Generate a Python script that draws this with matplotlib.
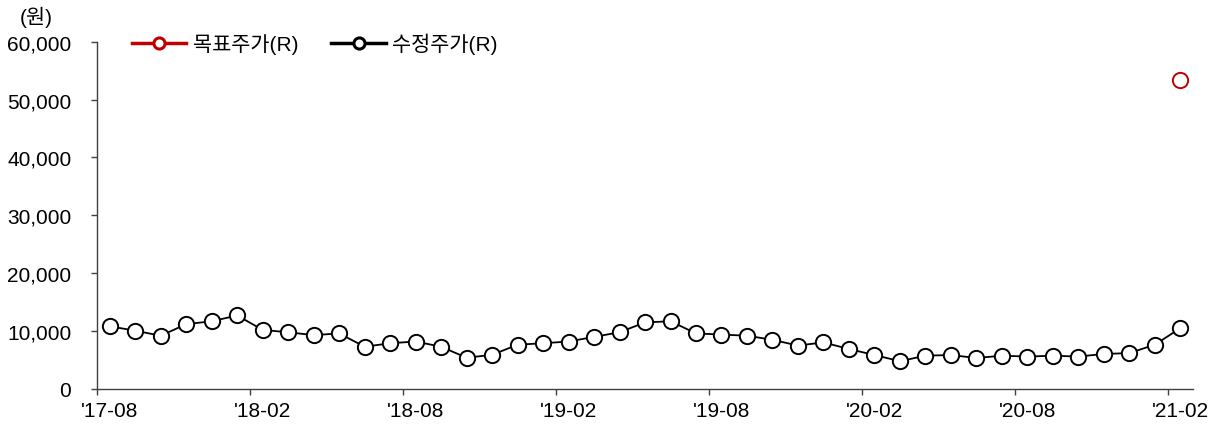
import numpy as np
import matplotlib
matplotlib.use("Agg")
import matplotlib.pyplot as plt
from matplotlib.ticker import FuncFormatter

plt.rcParams['font.family'] = ['Liberation Sans', 'Noto Sans CJK KR', 'DejaVu Sans']

# ── data ─────────────────────────────────────────────────────────────────────
months = [f"{y % 100:02d}-{m:02d}" for y in range(2017, 2022) for m in range(1, 13)]
months = months[months.index("17-08"):months.index("21-02") + 1]

adj_price = [10830, 10070, 9200, 11200, 11700, 12700, 10200, 9800, 9300, 9600,
             7300, 7900, 8200, 7300, 5400, 5900, 7650, 7900, 8200, 9000,
             9800, 11500, 11700, 9600, 9400, 9200, 8500, 7500, 8050, 6900,
             5870, 4800, 5750, 5870, 5350, 5750, 5600, 5750, 5600, 6050,
             6200, 7650, 10500]
target_price = [np.nan] * (len(months) - 1) + [53400]

tick_labels = ["'" + m for m in months[::6]]

# ── plot ─────────────────────────────────────────────────────────────────────
fig = plt.figure(figsize=(12.19, 4.27), dpi=100)
ax = fig.add_axes([0.0796, 0.0867, 0.8991, 0.8133])

x = np.arange(len(months)) + 0.5
mk = dict(marker="o", markersize=11, markerfacecolor="white", markeredgewidth=1.4)
ax.plot(x, target_price, color="#C00000", lw=2.5, **mk)
ax.plot(x, adj_price, color="black", lw=1.3, markeredgecolor="black", **mk)

# legend handles (thicker lines / smaller markers, as in the original)
h_red, = ax.plot([], [], color="#C00000", lw=2.5, label="목표주가(R)",
                 marker="o", markersize=8, markerfacecolor="white", markeredgewidth=2.2)
h_black, = ax.plot([], [], color="black", lw=2.5, label="수정주가(R)",
                   marker="o", markersize=8, markerfacecolor="white", markeredgewidth=2.2)

ax.set_xlim(0, len(months))
ax.set_ylim(0, 60000)
ax.set_yticks(np.arange(0, 60001, 10000))
ax.yaxis.set_major_formatter(FuncFormatter(lambda v, p: f"{int(v):,}"))

# tick marks at category boundaries, labels centred on the category
ax.set_xticks(np.arange(0, len(months), 6))
ax.set_xticklabels([])
ax.set_xticks(np.arange(0, len(months), 6) + 0.5, minor=True)
ax.set_xticklabels(tick_labels, minor=True)

for s in ["top", "right"]:
    ax.spines[s].set_visible(False)
for s in ["left", "bottom"]:
    ax.spines[s].set_color("#404040")
    ax.spines[s].set_linewidth(1.0)
ax.tick_params(axis="both", which="major", labelsize=15, color="#404040", length=4.5, width=1.0)
ax.tick_params(axis="x", which="minor", length=0, labelsize=15, pad=9)
ax.tick_params(axis="y", pad=14)

fig.text(0.016, 0.935, "(원)", fontsize=15, ha="left", va="bottom")

ax.legend(handles=[h_red, h_black], loc="upper left", bbox_to_anchor=(0.015, 1.08),
          ncol=2, frameon=False, handlelength=2.6, handletextpad=0.3,
          columnspacing=1.6, prop={'size': 15})

fig.savefig("out.png", dpi=100)
